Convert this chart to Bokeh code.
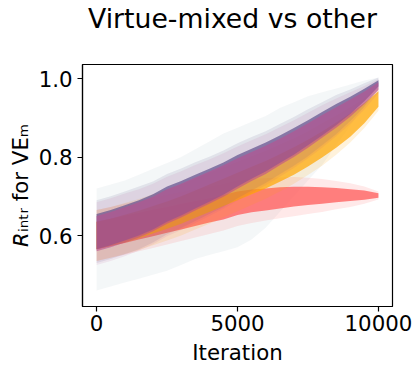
from bokeh.plotting import figure
from bokeh.layouts import column
from bokeh.models import Range1d, FixedTicker, PrintfTickFormatter, ColumnDataSource
from bokeh.core.properties import value
from bokeh.embed import file_html
from bokeh.resources import INLINE

# ---------------- data ----------------
iterations = [0, 500, 1000, 1500, 2000, 2500, 3000, 3500, 4000, 4500, 5000,
              5500, 6000, 6500, 7000, 7500, 8000, 8500, 9000, 9500, 10000]

# faint dark-teal series: outer envelope
teal_low = [0.46, 0.47, 0.48, 0.49, 0.50, 0.51, 0.525, 0.54, 0.55, 0.56, 0.57,
            0.59, 0.62, 0.66, 0.70, 0.74, 0.78, 0.83, 0.88, 0.93, 0.975]
teal_high = [0.72, 0.73, 0.74, 0.755, 0.77, 0.785, 0.80, 0.82, 0.84, 0.86, 0.875,
             0.89, 0.905, 0.925, 0.94, 0.955, 0.965, 0.975, 0.985, 0.995, 1.003]

purple_mean = [0.610, 0.620, 0.632, 0.645, 0.660, 0.680, 0.695, 0.712, 0.728, 0.745, 0.765,
               0.783, 0.800, 0.820, 0.840, 0.862, 0.885, 0.908, 0.932, 0.958, 0.988]
purple_core = [0.045, 0.045, 0.045, 0.045, 0.045, 0.045, 0.044, 0.043, 0.042, 0.041, 0.040,
               0.038, 0.037, 0.035, 0.034, 0.032, 0.030, 0.027, 0.022, 0.016, 0.008]
purple_outer = [0.080, 0.080, 0.080, 0.080, 0.078, 0.077, 0.076, 0.075, 0.073, 0.072, 0.070,
                0.068, 0.066, 0.064, 0.062, 0.060, 0.055, 0.050, 0.040, 0.030, 0.015]

magenta_mean = [0.605, 0.615, 0.627, 0.640, 0.655, 0.674, 0.689, 0.706, 0.722, 0.739, 0.758,
                0.776, 0.793, 0.813, 0.833, 0.855, 0.878, 0.901, 0.925, 0.951, 0.981]
magenta_core = [0.045, 0.045, 0.045, 0.045, 0.044, 0.044, 0.043, 0.042, 0.041, 0.040, 0.039,
                0.037, 0.036, 0.034, 0.033, 0.031, 0.029, 0.026, 0.022, 0.016, 0.010]
magenta_outer = [0.080, 0.080, 0.080, 0.078, 0.077, 0.076, 0.075, 0.074, 0.072, 0.071, 0.069,
                 0.067, 0.065, 0.063, 0.061, 0.058, 0.054, 0.048, 0.040, 0.030, 0.018]

gold_mean = [0.600, 0.608, 0.618, 0.628, 0.640, 0.652, 0.665, 0.680, 0.695, 0.710, 0.725,
             0.740, 0.755, 0.772, 0.790, 0.810, 0.832, 0.856, 0.882, 0.912, 0.948]
gold_core = [0.035, 0.035, 0.035, 0.035, 0.035, 0.035, 0.035, 0.035, 0.035, 0.035, 0.035,
             0.035, 0.035, 0.035, 0.035, 0.034, 0.033, 0.032, 0.030, 0.026, 0.020]
gold_outer = [0.065, 0.065, 0.065, 0.065, 0.065, 0.065, 0.065, 0.065, 0.065, 0.064, 0.063,
              0.062, 0.061, 0.060, 0.058, 0.056, 0.054, 0.050, 0.045, 0.038, 0.030]

red_mean = [0.600, 0.608, 0.616, 0.624, 0.632, 0.640, 0.648, 0.656, 0.664, 0.672, 0.682,
            0.688, 0.692, 0.696, 0.699, 0.701, 0.702, 0.703, 0.703, 0.703, 0.702]
red_core = [0.035, 0.035, 0.035, 0.034, 0.034, 0.033, 0.033, 0.032, 0.031, 0.031, 0.030,
            0.029, 0.028, 0.027, 0.025, 0.023, 0.021, 0.018, 0.015, 0.012, 0.006]
red_outer = [0.065, 0.065, 0.065, 0.064, 0.064, 0.063, 0.062, 0.061, 0.060, 0.059, 0.058,
             0.056, 0.054, 0.052, 0.050, 0.046, 0.042, 0.036, 0.030, 0.022, 0.010]

x_ticks = [0, 5000, 10000]
y_ticks = [0.6, 0.8, 1.0]

title_text = "Virtue-mixed vs other"
x_label = "Iteration"
y_label = "\U0001D619\u1D62\u2099\u209C\u1D63 for VE\u2098"   # R_intr for VE_m

FONT = "DejaVu Sans"
W, H_TITLE, H_MAIN = 420, 40, 332
FRAME_L, FRAME_R = 82, 392   # page x of the plot frame (the title strip is aligned to it)

# ---------------- title strip (pixel coordinates) ----------------
tfig = figure(width=W, height=H_TITLE, output_backend="svg", toolbar_location=None,
              x_range=Range1d(FRAME_L, FRAME_R), y_range=Range1d(0, H_TITLE),
              x_axis_location=None, y_axis_location=None, title=None,
              min_border=0, min_border_left=0, min_border_right=0,
              min_border_top=0, min_border_bottom=0)
tfig.grid.visible = False
tfig.outline_line_color = None
tfig.background_fill_color = "white"
tfig.border_fill_color = "white"
tfig.text(x=[232], y=[H_TITLE - 18.2], text=[title_text], text_align="center",
          text_baseline="middle", text_font=value(FONT), text_font_size="26.7px",
          text_color="black")

# ---------------- main figure ----------------
p = figure(width=W, height=H_MAIN, output_backend="svg", toolbar_location=None,
           x_range=Range1d(-500, 10499), y_range=Range1d(0.419, 1.036), title=None,
           min_border_left=FRAME_L, min_border_right=W - FRAME_R,
           min_border_top=24, min_border_bottom=66)

p.xgrid.visible = False
p.ygrid.visible = False
p.background_fill_color = "white"
p.border_fill_color = "white"
p.outline_line_color = "black"
p.outline_line_width = 1.2

for ax in (p.xaxis[0], p.yaxis[0]):
    ax.axis_line_color = "black"
    ax.axis_line_width = 1.2
    ax.major_tick_line_color = "black"
    ax.major_tick_line_width = 1.2
    ax.major_tick_in = 0
    ax.major_tick_out = 5
    ax.minor_tick_line_color = None
    ax.major_label_text_font = FONT
    ax.major_label_text_font_size = "21.3px"
    ax.major_label_text_color = "black"
    ax.axis_label_text_font = FONT
    ax.axis_label_text_font_size = "21.3px"
    ax.axis_label_text_font_style = "normal"
    ax.axis_label_text_color = "black"

p.xaxis.ticker = FixedTicker(ticks=x_ticks)
p.yaxis.ticker = FixedTicker(ticks=y_ticks)
p.xaxis.formatter = PrintfTickFormatter(format="%d")
p.yaxis.formatter = PrintfTickFormatter(format="%.1f")
p.xaxis.major_label_standoff = 3
p.yaxis.major_label_standoff = 5

p.xaxis.axis_label = x_label
p.xaxis.axis_label_standoff = 6
p.yaxis.axis_label = y_label
p.yaxis.axis_label_standoff = 3

# ---------------- bands ----------------
def band(lo, hi, color, alpha):
    src = ColumnDataSource(dict(x=iterations, lo=lo, hi=hi))
    p.varea(x="x", y1="lo", y2="hi", source=src, fill_color=color, fill_alpha=alpha)

band(teal_low, teal_high, "#003f5c", 0.045)

series = [
    (red_mean, red_core, red_outer, "#ff6361", 0.80, 0.14),
    (gold_mean, gold_core, gold_outer, "#ffa600", 0.70, 0.14),
    (purple_mean, purple_core, purple_outer, "#58508d", 0.70, 0.12),
    (magenta_mean, magenta_core, magenta_outer, "#bc5090", 0.60, 0.10),
]
for mean, core, outer, color, a_core, a_outer in series:
    band([m - o for m, o in zip(mean, outer)], [m + o for m, o in zip(mean, outer)], color, a_outer)
    band([m - c for m, c in zip(mean, core)], [m + c for m, c in zip(mean, core)], color, a_core)

layout = column(tfig, p, spacing=0)
open("out.html", "w").write(file_html(layout, INLINE))
